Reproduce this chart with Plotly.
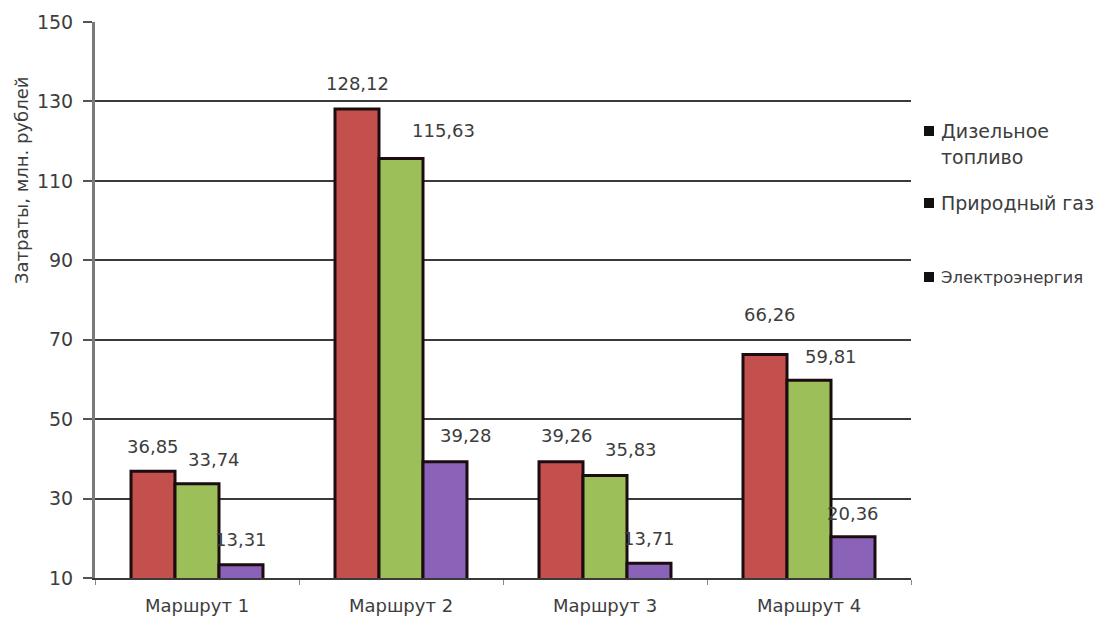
import plotly.graph_objects as go

# Route cost data, million rubles
routes = ["Маршрут 1", "Маршрут 2", "Маршрут 3", "Маршрут 4"]
diesel = [36.85, 128.12, 39.26, 66.26]
natural_gas = [33.74, 115.63, 35.83, 59.81]
electricity = [13.31, 39.28, 13.71, 20.36]
series_names = ["Дизельное топливо", "Природный газ", "Электроэнергия"]
y_ticks = [10, 30, 50, 70, 90, 110, 130, 150]

# Presentation settings
colors = ["#c4504e", "#9dbf59", "#8a62b8"]
outline = "#1c0c10"
font_family = "DejaVu Sans"
text_color = "#3d3d3d"
W, H = 1094, 620
margin = dict(l=95, r=183, t=22, b=42)
bargap = 0.353

# Fine placement of the value labels (pixels): horizontal nudge and height above bar top
label_dx = [[0, 0, 6, 5], [17, 42, 26, 22], [0, 21, 0, 0]]
label_dy = [[25, 25, 26, 40], [24, 28, 26, 24], [25, 26, 25, 23]]

series = [diesel, natural_gas, electricity]

fig = go.Figure()
for name, vals, col in zip(series_names, series, colors):
    fig.add_trace(go.Bar(
        x=routes, y=vals, name=name,
        marker=dict(color=col, line=dict(color=outline, width=3)),
        showlegend=False,
    ))

plot_w = W - margin["l"] - margin["r"]
plot_h = H - margin["t"] - margin["b"]
cat_w = plot_w / len(routes)
bar_w = cat_w * (1 - bargap) / len(series)


def py(pixel_y):
    """Convert a page pixel row into paper y."""
    return 1 - (pixel_y - margin["t"]) / plot_h


def px(pixel_x):
    """Convert a page pixel column into paper x."""
    return (pixel_x - margin["l"]) / plot_w


annotations = []
for i, vals in enumerate(series):
    for j, v in enumerate(vals):
        annotations.append(dict(
            x=routes[j], y=v, xref="x", yref="y",
            text=f"{v:.2f}".replace(".", ","),
            showarrow=False,
            xshift=(i - 1) * bar_w + label_dx[i][j],
            yshift=label_dy[i][j],
            yanchor="middle",
            font=dict(family=font_family, size=18, color=text_color),
        ))

# Y-axis title
annotations.append(dict(
    text="Затраты, млн. рублей", textangle=-90,
    xref="paper", yref="paper", x=px(21), y=py(181),
    xanchor="center", yanchor="middle", showarrow=False,
    font=dict(family=font_family, size=18, color=text_color),
))

# Legend drawn as text lines with square keys
legend_lines = [
    ("Дизельное", 131, 19),
    ("топливо", 157, 19),
    ("Природный газ", 203, 19),
    ("Электроэнергия", 277, 16.5),
]
for label, yy, fs in legend_lines:
    annotations.append(dict(
        text=label, xref="paper", yref="paper", x=px(939), y=py(yy),
        xanchor="left", yanchor="middle", align="left", showarrow=False,
        font=dict(family=font_family, size=fs, color=text_color),
    ))

shapes = []
for ky in [131, 203, 277]:
    shapes.append(dict(
        type="rect", xref="paper", yref="paper",
        x0=px(924), x1=px(934), y0=py(ky + 5), y1=py(ky - 5),
        fillcolor="#111111", line=dict(width=0),
    ))

fig.update_layout(
    width=W, height=H, margin=margin,
    barmode="group", bargap=bargap, bargroupgap=0,
    plot_bgcolor="white", paper_bgcolor="white",
    font=dict(family=font_family, color=text_color),
    annotations=annotations, shapes=shapes,
    xaxis=dict(
        automargin=False,
        showline=True, linecolor="#3a3a3a", linewidth=2,
        ticks="outside", tickson="boundaries", ticklen=5, tickcolor="#888888",
        tickfont=dict(family=font_family, size=18, color=text_color),
        ticklabelstandoff=10,
    ),
    yaxis=dict(
        automargin=False,
        range=[10, 150], tickvals=y_ticks,
        showgrid=True, gridcolor="#3a3a3a", gridwidth=2,
        showline=True, linecolor="#7a7a7a", linewidth=3,
        ticks="outside", ticklen=9, tickwidth=2, tickcolor="#555555",
        tickfont=dict(family=font_family, size=19, color=text_color),
        ticklabelstandoff=6,
        zeroline=False,
    ),
)

fig.write_html("out.html")
